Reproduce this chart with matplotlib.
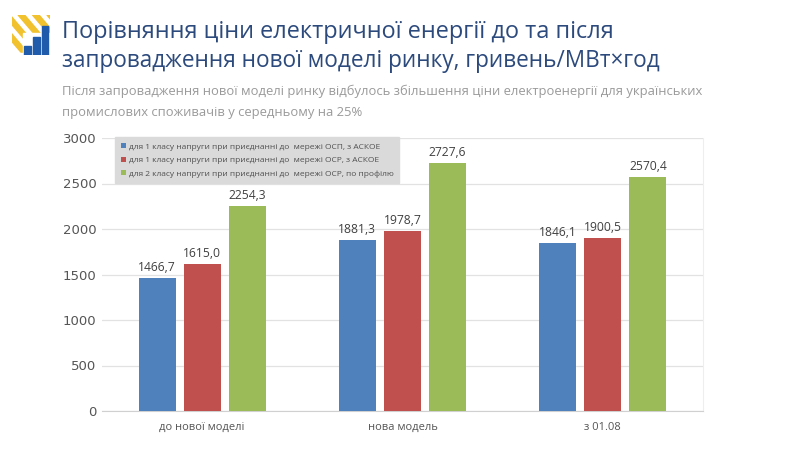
import matplotlib
matplotlib.use("Agg")
import matplotlib.pyplot as plt
import numpy as np
from matplotlib.patches import Rectangle, Polygon

categories = ["до нової моделі", "нова модель", "з 01.08"]
series_names = [
    "для 1 класу напруги при приєднанні до  мережі ОСП, з АСКОЕ",
    "для 1 класу напруги при приєднанні до  мережі ОСР, з АСКОЕ",
    "для 2 класу напруги при приєднанні до  мережі ОСР, по профілю",
]
osp_1class = [1466.7, 1881.3, 1846.1]
osr_1class = [1615.0, 1978.7, 1900.5]
osr_2class = [2254.3, 2727.6, 2570.4]
yticks = [0, 500, 1000, 1500, 2000, 2500, 3000]

colors = ["#4F81BD", "#C0504D", "#9BBB59"]
title_lines = ["Порівняння ціни електричної енергії до та після",
               "запровадження нової моделі ринку, гривень/МВт×год"]
subtitle_lines = ["Після запровадження нової моделі ринку відбулось збільшення ціни електроенергії для українських",
                  "промислових споживачів у середньому на 25%"]

plt.rcParams['font.family'] = ['Open Sans', 'DejaVu Sans']

fig = plt.figure(figsize=(8, 4.5), dpi=100)
fig.patch.set_facecolor("white")

# logo
lax = fig.add_axes([12/800, 1-55/450, 38/800, 40/450])
lax.set_xlim(0, 1); lax.set_ylim(0, 1); lax.axis("off")
for i in range(5):
    x0 = -0.6 + i*0.38
    lax.add_patch(Polygon([[x0, 1], [x0+0.17, 1], [x0+0.17+0.9, 0.0], [x0+0.9, 0.0]],
                          closed=True, color="#F2C12E", clip_on=True))
lax.add_patch(Rectangle((0.3, 0), 0.8, 0.55, color="white", zorder=2))
for bx, bh in [(0.32, 0.22), (0.55, 0.45), (0.78, 0.72)]:
    lax.add_patch(Rectangle((bx, 0), 0.18, bh, color="#1F5BAA", zorder=3))
lax.add_patch(Rectangle((0.0, 0), 0.3, 0.04, color="white", zorder=2))

# titles
fig.text(62/800, 1-38/450, title_lines[0], fontsize=16.9, color="#2C4A7C", va="baseline")
fig.text(62/800, 1-67/450, title_lines[1], fontsize=16.3, color="#2C4A7C", va="baseline")
fig.text(62/800, 1-95/450, subtitle_lines[0], fontsize=9.35, color="#9A9A9A", va="baseline")
fig.text(62/800, 1-116/450, subtitle_lines[1], fontsize=9.35, color="#9A9A9A", va="baseline")

ax = fig.add_axes([102/800, 1-411/450, 601/800, 273/450])
x = np.arange(len(categories))
w = 0.185
off = 0.225
for k, (vals, c) in enumerate(zip([osp_1class, osr_1class, osr_2class], colors)):
    bars = ax.bar(x + (k-1)*off, vals, width=w, color=c, label=series_names[k], zorder=3)
    for b, v in zip(bars, vals):
        ax.text(b.get_x() + b.get_width()/2, v + 40, f"{v:.1f}".replace(".", ","),
                ha="center", va="bottom", fontsize=8.7, color="#404040", zorder=4)

ax.set_xlim(-0.5, 2.5)
ax.set_ylim(0, 3000)
ax.set_yticks(yticks)
ax.set_yticklabels([str(t) for t in yticks], fontfamily="DejaVu Sans", fontsize=9.5)
ax.set_xticks(x)
ax.set_xticklabels(categories, fontsize=8)
ax.tick_params(axis="both", length=0, colors="#555555")
ax.tick_params(axis="y", pad=4)
ax.tick_params(axis="x", pad=8)
ax.grid(axis="y", color="#E2E2E2", linewidth=0.9, zorder=0)
for s in ["top", "left"]:
    ax.spines[s].set_visible(False)
ax.spines["right"].set_color("#EEEEEE")
ax.spines["bottom"].set_color("#D0D0D0")

leg = ax.legend(loc="upper left", bbox_to_anchor=(0.015, 1.018), fontsize=6.0, frameon=True,
                fancybox=False, handlelength=0.6, handleheight=0.6, handletextpad=0.3,
                labelspacing=0.7, borderpad=0.7, labelcolor="#505050")
leg.get_frame().set_facecolor("#DADADA")
leg.get_frame().set_edgecolor("#DADADA")
leg.get_frame().set_alpha(1)
leg.set_zorder(5)

fig.savefig("out.png", dpi=100, facecolor="white")
